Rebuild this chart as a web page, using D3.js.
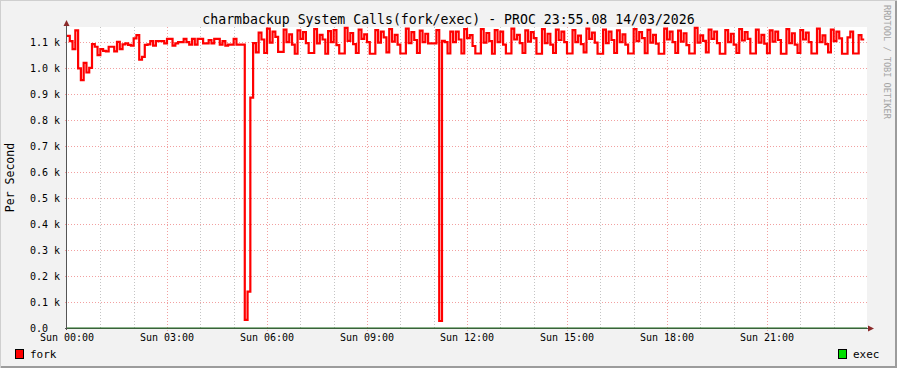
<!DOCTYPE html>
<html>
<head>
<meta charset="utf-8">
<script src="https://cdn.jsdelivr.net/npm/d3@7"></script>
<style>
  html, body { margin: 0; padding: 0; background: #f2f2f2; }
  svg { display: block; font-family: "DejaVu Sans Mono", monospace; }
</style>
</head>
<body>
<div class="rrd-chart"></div>
<script>
const title = "charmbackup System Calls(fork/exec) - PROC 23:55.08 14/03/2026"
const yLabel = "Per Second"
const watermark = "RRDTOOL / TOBI OETIKER"

// x ticks in hours since midnight
const xTickHours = [0, 3, 6, 9, 12, 15, 18, 21]
const xTickLabels = ["Sun 00:00", "Sun 03:00", "Sun 06:00", "Sun 09:00", "Sun 12:00", "Sun 15:00", "Sun 18:00", "Sun 21:00"]
const yTickValues = [0, 0.1, 0.2, 0.3, 0.4, 0.5, 0.6, 0.7, 0.8, 0.9, 1.0, 1.1]
const yTickLabels = ["0.0", "0.1 k", "0.2 k", "0.3 k", "0.4 k", "0.5 k", "0.6 k", "0.7 k", "0.8 k", "0.9 k", "1.0 k", "1.1 k"]

const seriesNames = ["fork", "exec"]
const seriesColors = ["#ff0000", "#00e000"]

// one sample every 5 minutes, values in thousands per second
const stepMinutes = 5
const forkValues = [
  1.124, 1.104, 1.073, 1.145, 0.999, 0.954, 1.020, 0.983, 1.001, 1.092, 1.082, 1.050,
  1.073, 1.066, 1.064, 1.082, 1.082, 1.064, 1.101, 1.073, 1.091, 1.095, 1.089, 1.086,
  1.114, 1.127, 1.032, 1.043, 1.089, 1.091, 1.104, 1.086, 1.104, 1.104, 1.104, 1.095,
  1.112, 1.112, 1.086, 1.095, 1.100, 1.100, 1.112, 1.100, 1.090, 1.112, 1.090, 1.112,
  1.112, 1.095, 1.095, 1.108, 1.095, 1.112, 1.112, 1.090, 1.104, 1.086, 1.090, 1.090,
  1.112, 1.090, 1.090, 1.090, 0.031, 0.140, 0.886, 1.096, 1.060, 1.136, 1.110, 1.058,
  1.152, 1.098, 1.140, 1.120, 1.062, 1.062, 1.148, 1.100, 1.130, 1.090, 1.055, 1.145,
  1.112, 1.138, 1.096, 1.058, 1.058, 1.150, 1.095, 1.128, 1.110, 1.055, 1.142, 1.100,
  1.146, 1.088, 1.056, 1.056, 1.155, 1.105, 1.135, 1.092, 1.058, 1.148, 1.112, 1.130,
  1.100, 1.055, 1.055, 1.146, 1.098, 1.140, 1.118, 1.060, 1.150, 1.102, 1.128, 1.090,
  1.056, 1.056, 1.152, 1.096, 1.138, 1.108, 1.058, 1.144, 1.100, 1.132, 1.095, 1.095,
  1.095, 1.146, 0.027, 1.105, 1.100, 1.056, 1.140, 1.100, 1.140, 1.110, 1.056, 1.150,
  1.115, 1.127, 1.085, 1.056, 1.056, 1.150, 1.098, 1.135, 1.104, 1.055, 1.146, 1.100,
  1.140, 1.090, 1.056, 1.056, 1.152, 1.110, 1.128, 1.096, 1.058, 1.145, 1.102, 1.138,
  1.115, 1.055, 1.055, 1.150, 1.096, 1.132, 1.090, 1.058, 1.148, 1.108, 1.140, 1.100,
  1.056, 1.056, 1.146, 1.100, 1.125, 1.092, 1.060, 1.152, 1.112, 1.136, 1.098, 1.055,
  1.055, 1.148, 1.096, 1.140, 1.108, 1.058, 1.145, 1.100, 1.130, 1.090, 1.056, 1.056,
  1.150, 1.104, 1.138, 1.115, 1.057, 1.147, 1.098, 1.128, 1.094, 1.055, 1.055, 1.152,
  1.110, 1.140, 1.100, 1.058, 1.144, 1.102, 1.134, 1.088, 1.056, 1.056, 1.155, 1.098,
  1.126, 1.105, 1.060, 1.148, 1.112, 1.140, 1.096, 1.055, 1.055, 1.146, 1.100, 1.132,
  1.090, 1.058, 1.150, 1.106, 1.138, 1.112, 1.056, 1.056, 1.148, 1.098, 1.128, 1.094,
  1.057, 1.145, 1.102, 1.140, 1.108, 1.055, 1.055, 1.150, 1.096, 1.134, 1.090, 1.058,
  1.146, 1.110, 1.136, 1.100, 1.056, 1.056, 1.152, 1.100, 1.126, 1.092, 1.060, 1.148,
  1.104, 1.140, 1.114, 1.055, 1.055, 1.118, 1.140, 1.056, 1.056, 1.127, 1.110
]
// exec stays flat at zero all day
const execHours = [0, 24]
const execValues = [0, 0]

const init = () => {
  const width = 897
  const height = 368
  const plot = { left: 67, right: 867, top: 27, bottom: 328 }

  const svg = d3.select(".rrd-chart")
    .append("svg")
    .attr("width", width)
    .attr("height", height)

  // background + 3d shade border
  svg.append("rect").attr("width", width).attr("height", height).attr("fill", "#f2f2f2")
  svg.append("path").attr("d", `M0,${height}V0H${width}`).attr("stroke", "#cfcfcf").attr("stroke-width", 2).attr("fill", "none")
  svg.append("path").attr("d", `M1,${height - 1}H${width - 1}V1`).attr("stroke", "#9c9c9c").attr("stroke-width", 2).attr("fill", "none")

  svg.append("rect")
    .attr("x", plot.left).attr("y", plot.top)
    .attr("width", plot.right - plot.left).attr("height", plot.bottom - plot.top)
    .attr("fill", "#ffffff")

  // scales
  const xScale = d3.scaleLinear().domain([0, 24]).range([plot.left, plot.right])
  const yScale = d3.scaleLinear().domain([0, 1.158]).range([plot.bottom, plot.top])

  // grid: hourly minor, 3 hourly major
  const grid = svg.append("g").attr("shape-rendering", "crispEdges")
  const hours = d3.range(1, 24)
  grid.selectAll(".minor-x")
    .data(hours.filter(h => h % 3 !== 0))
    .join("line")
    .attr("x1", d => Math.round(xScale(d)) + 0.5).attr("x2", d => Math.round(xScale(d)) + 0.5)
    .attr("y1", plot.top).attr("y2", plot.bottom + 2)
    .attr("stroke", "#c4c4c4").attr("stroke-dasharray", "1,2")

  grid.selectAll(".major-x")
    .data(hours.filter(h => h % 3 === 0))
    .join("line")
    .attr("x1", d => Math.round(xScale(d)) + 0.5).attr("x2", d => Math.round(xScale(d)) + 0.5)
    .attr("y1", plot.top).attr("y2", plot.bottom + 3)
    .attr("stroke", "#f2a0a0").attr("stroke-dasharray", "1,2")

  grid.selectAll(".major-y")
    .data(yTickValues.slice(1))
    .join("line")
    .attr("x1", plot.left - 2).attr("x2", plot.right)
    .attr("y1", d => Math.round(yScale(d)) + 0.5).attr("y2", d => Math.round(yScale(d)) + 0.5)
    .attr("stroke", "#f2a0a0").attr("stroke-dasharray", "1,2")

  // axis labels
  svg.append("g").selectAll("text")
    .data(yTickValues)
    .join("text")
    .attr("x", 30)
    .attr("y", d => yScale(d) + 3.5)
    .attr("font-size", 10)
    .attr("fill", "#000")
    .text((d, i) => yTickLabels[i])

  svg.append("g").selectAll("text")
    .data(xTickHours)
    .join("text")
    .attr("x", d => xScale(d))
    .attr("y", 341)
    .attr("text-anchor", "middle")
    .attr("font-size", 10)
    .attr("fill", "#000")
    .text((d, i) => xTickLabels[i])

  // step lines
  const forkPoints = forkValues.map((v, i) => [i * stepMinutes / 60, v])
  forkPoints.push([forkValues.length * stepMinutes / 60, forkValues[forkValues.length - 1]])

  const line = d3.line()
    .x(d => xScale(d[0]))
    .y(d => yScale(d[1]))
    .curve(d3.curveStepAfter)

  svg.append("path")
    .datum(forkPoints)
    .attr("d", line)
    .attr("fill", "none")
    .attr("stroke", seriesColors[0])
    .attr("stroke-width", 2.2)
    .attr("stroke-linejoin", "miter")

  // axes
  svg.append("line")
    .attr("x1", plot.left - 0.5).attr("x2", plot.left - 0.5)
    .attr("y1", plot.bottom + 2).attr("y2", plot.top - 2)
    .attr("stroke", "#555").attr("stroke-width", 1)
  svg.append("line")
    .attr("x1", plot.left - 2).attr("x2", plot.right + 2)
    .attr("y1", plot.bottom + 0.5).attr("y2", plot.bottom + 0.5)
    .attr("stroke", "#555").attr("stroke-width", 1)

  const execPoints = execHours.map((h, i) => [h, execValues[i]])
  svg.append("path")
    .datum(execPoints)
    .attr("d", line)
    .attr("fill", "none")
    .attr("stroke", "#1f6e1f")
    .attr("stroke-width", 1.2)

  svg.append("path")
    .attr("d", `M${plot.left - 0.5},${plot.top - 7}l-3,6h6z`)
    .attr("fill", "#8b2a2a")
  svg.append("path")
    .attr("d", `M${plot.right + 7},${plot.bottom + 0.5}l-6,-3v6z`)
    .attr("fill", "#8b2a2a")

  // titles
  svg.append("text")
    .attr("x", width / 2)
    .attr("y", 23.5)
    .attr("text-anchor", "middle")
    .attr("font-size", 13.2)
    .attr("fill", "#000")
    .text(title)

  svg.append("text")
    .attr("transform", `translate(14,${(plot.top + plot.bottom) / 2}) rotate(-90)`)
    .attr("text-anchor", "middle")
    .attr("font-size", 11.5)
    .attr("fill", "#000")
    .text(yLabel)

  svg.append("text")
    .attr("transform", "translate(884,5) rotate(90)")
    .attr("font-size", 8.6)
    .attr("fill", "#a4a4a4")
    .text(watermark)

  // legend
  const legendX = [15, 838]
  const legend = svg.append("g").selectAll("g")
    .data(seriesNames)
    .join("g")
    .attr("transform", (d, i) => `translate(${legendX[i]},349)`)
  legend.append("rect")
    .attr("x", 0.5).attr("y", 0.5).attr("width", 8).attr("height", 9)
    .attr("fill", (d, i) => seriesColors[i])
    .attr("stroke", "#000")
  legend.append("text")
    .attr("x", 15)
    .attr("y", 9)
    .attr("font-size", 11)
    .attr("fill", "#000")
    .text(d => d)
}

init()
</script>
</body>
</html>
